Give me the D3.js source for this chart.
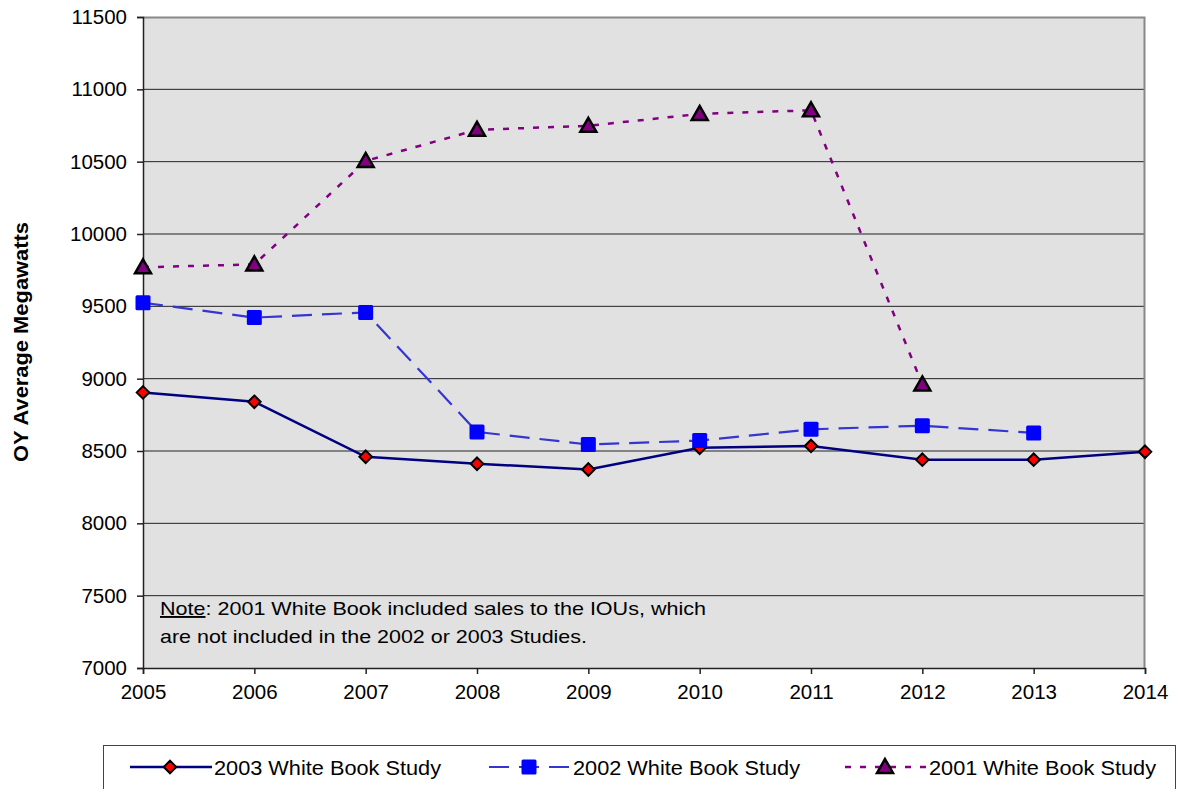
<!DOCTYPE html>
<html>
<head>
<meta charset="utf-8">
<script src="https://cdn.jsdelivr.net/npm/d3@7"></script>
<style>
  body { margin: 0; background: #fff; }
  text { font-family: Arial, "Liberation Sans", sans-serif; }
</style>
</head>
<body>
<svg id="chart" width="1177" height="789"></svg>
<script>
// data
const years = [2005, 2006, 2007, 2008, 2009, 2010, 2011, 2012, 2013, 2014];
const yTicks = [7000, 7500, 8000, 8500, 9000, 9500, 10000, 10500, 11000, 11500];
const study2003 = [8905, 8840, 8460, 8412, 8372, 8522, 8535, 8440, 8440, 8495];
const study2002 = [9525, 9422, 9458, 8632, 8545, 8572, 8650, 8675, 8625];
const study2001 = [9770, 9790, 10505, 10720, 10748, 10830, 10855, 8960];

const svg = d3.select("#chart");
const margin = { top: 17, right: 32, bottom: 121, left: 143 };
const width = 1177 - margin.left - margin.right,
      height = 789 - margin.top - margin.bottom;

const g = svg.append("g").attr("transform", `translate(${margin.left},${margin.top})`);

const x = d3.scaleLinear().domain([2005, 2014]).range([0, width]);
const y = d3.scaleLinear().domain([7000, 11500]).range([height, 0]);

// plot background
g.append("rect").attr("width", width).attr("height", height).attr("fill", "#e1e1e1");

// gridlines
g.selectAll(".grid").data(yTicks.slice(1, -1)).enter().append("line")
    .attr("x1", 0).attr("x2", width)
    .attr("y1", d => y(d)).attr("y2", d => y(d))
    .attr("stroke", "#222").attr("stroke-width", 1);

// top / right border
g.append("path").attr("d", `M0,0.5H${width - 0.5}V${height}`)
    .attr("fill", "none").attr("stroke", "#888").attr("stroke-width", 2);

// axes
const yAxis = g.append("g")
    .call(d3.axisLeft(y).tickValues(yTicks).tickSize(6).tickPadding(10).tickFormat(d3.format("d")));
const xAxis = g.append("g").attr("transform", `translate(0,${height})`)
    .call(d3.axisBottom(x).tickValues(years).tickSize(6).tickPadding(10).tickFormat(d3.format("d")));
[yAxis, xAxis].forEach(a => {
    a.selectAll("path, line").attr("stroke", "#222").attr("stroke-width", 1.5);
    a.selectAll("text").attr("fill", "#000").style("font-size", "20.5px");
});

// y axis title
svg.append("text")
    .attr("transform", `translate(28,${margin.top + 325}) rotate(-90)`)
    .attr("text-anchor", "middle")
    .style("font-size", "20px").style("font-weight", "bold")
    .attr("textLength", 240).attr("lengthAdjust", "spacingAndGlyphs")
    .text("OY Average Megawatts");

// note
const note = svg.append("text").attr("x", 160).attr("y", 615).style("font-size", "19px").attr("fill", "#000")
    .attr("textLength", 546).attr("lengthAdjust", "spacingAndGlyphs");
note.append("tspan").attr("text-decoration", "underline").text("Note");
note.append("tspan").text(": 2001 White Book included sales to the IOUs, which");
svg.append("text").attr("x", 160).attr("y", 643).style("font-size", "19px").attr("fill", "#000")
    .attr("textLength", 427).attr("lengthAdjust", "spacingAndGlyphs")
    .text("are not included in the 2002 or 2003 Studies.");

const series = [
    { name: "2003 White Book Study", values: study2003, color: "#000080", width: 2.5, dash: null, marker: "diamond", fill: "#ff0000" },
    { name: "2002 White Book Study", values: study2002, color: "#3535d0", width: 2.2, dash: "20,10", marker: "square", fill: "#0000ff" },
    { name: "2001 White Book Study", values: study2001, color: "#800080", width: 2.5, dash: "6,9", marker: "triangle", fill: "#800080" }
];

const line = d3.line().x((d, i) => x(years[i])).y(d => y(d));

function drawMarker(sel, s) {
    if (s.marker === "diamond") {
        sel.append("path").attr("d", d3.symbol(d3.symbolDiamond2, 100)())
            .attr("fill", s.fill).attr("stroke", "#000").attr("stroke-width", 2);
    } else if (s.marker === "square") {
        sel.append("rect").attr("x", -7.5).attr("y", -7.5).attr("width", 15).attr("height", 15).attr("rx", 1.5)
            .attr("fill", s.fill);
    } else {
        sel.append("path").attr("d", "M0,-8L8,6H-8Z")
            .attr("fill", s.fill).attr("stroke", "#000").attr("stroke-width", 2.5).attr("stroke-linejoin", "miter");
    }
}

series.forEach(s => {
    g.append("path").datum(s.values)
        .attr("d", line)
        .attr("fill", "none").attr("stroke", s.color).attr("stroke-width", s.width)
        .attr("stroke-dasharray", s.dash);
});
series.forEach(s => {
    g.selectAll(null).data(s.values).enter().append("g")
        .attr("transform", (d, i) => `translate(${x(years[i])},${y(d)})`)
        .each(function () { drawMarker(d3.select(this), s); });
});

// legend
const legend = svg.append("g").attr("transform", "translate(103,745)");
legend.append("rect").attr("x", 0.5).attr("y", 0.5).attr("width", 1072).attr("height", 44)
    .attr("fill", "#fff").attr("stroke", "#444").attr("stroke-width", 1);
const legendX = [27, 386, 742];
series.forEach((s, i) => {
    const lg = legend.append("g").attr("transform", `translate(${legendX[i]},22)`);
    lg.append("line").attr("x1", 0).attr("x2", 82).attr("stroke", s.color)
        .attr("stroke-width", s.width).attr("stroke-dasharray", s.dash);
    const m = lg.append("g").attr("transform", "translate(40,0)");
    drawMarker(m, s);
    lg.append("text").attr("x", 84).attr("y", 8).style("font-size", "20px")
        .attr("textLength", 227).attr("lengthAdjust", "spacingAndGlyphs").text(s.name);
});
</script>
</body>
</html>
